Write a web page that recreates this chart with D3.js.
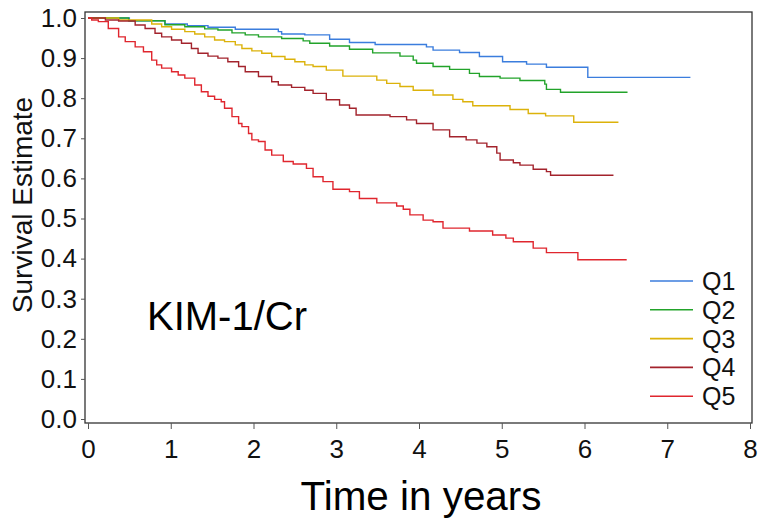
<!DOCTYPE html>
<html>
<head>
<meta charset="utf-8">
<script src="https://cdn.jsdelivr.net/npm/d3@7"></script>
<style>
  html, body { margin: 0; padding: 0; background: #fff; }
  svg { display: block; font-family: "Liberation Sans", Arial, sans-serif; }
</style>
</head>
<body>
<svg id="chart" width="762" height="529"></svg>
<script>
// ---- data ----
const seriesNames = ["Q1", "Q2", "Q3", "Q4", "Q5"];
const seriesColors = ["#3b7ddd", "#22a32a", "#dcb20a", "#a3232c", "#e0262e"];

const q1Time = [0, 0.5, 0.93, 1.2, 1.45, 1.78, 2.30, 2.34, 2.62, 2.92, 3.16, 3.47, 4.09, 4.17, 4.49, 4.73, 5.01, 5.30, 5.54, 6.04, 7.28];
const q1Surv = [1, 0.993, 0.985, 0.981, 0.977, 0.972, 0.966, 0.960, 0.958, 0.947, 0.939, 0.934, 0.928, 0.920, 0.914, 0.904, 0.891, 0.885, 0.877, 0.852, 0.852];

const q2Time = [0, 0.49, 0.93, 1.17, 1.41, 1.57, 1.74, 1.90, 2.06, 2.34, 2.60, 2.68, 2.92, 3.16, 3.44, 3.77, 3.93, 3.97, 4.17, 4.37, 4.61, 4.73, 4.98, 5.22, 5.52, 5.54, 5.71, 6.52];
const q2Surv = [1, 0.993, 0.983, 0.978, 0.973, 0.970, 0.963, 0.958, 0.953, 0.949, 0.943, 0.937, 0.930, 0.922, 0.913, 0.905, 0.895, 0.887, 0.879, 0.872, 0.862, 0.854, 0.850, 0.844, 0.835, 0.822, 0.815, 0.815];

const q3Time = [0, 0.37, 0.77, 0.89, 1.01, 1.17, 1.29, 1.41, 1.53, 1.65, 1.78, 1.86, 1.98, 2.10, 2.22, 2.38, 2.50, 2.62, 2.72, 2.88, 3.08, 3.49, 3.61, 3.77, 3.93, 4.17, 4.41, 4.53, 4.65, 5.10, 5.32, 5.53, 5.87, 6.41];
const q3Surv = [1, 0.995, 0.985, 0.978, 0.972, 0.966, 0.960, 0.953, 0.945, 0.941, 0.933, 0.924, 0.918, 0.912, 0.904, 0.897, 0.891, 0.883, 0.879, 0.870, 0.855, 0.845, 0.837, 0.829, 0.820, 0.808, 0.797, 0.791, 0.781, 0.772, 0.762, 0.756, 0.740, 0.740];

const q4Time = [0, 0.21, 0.37, 0.57, 0.69, 0.81, 0.89, 1.01, 1.13, 1.25, 1.33, 1.45, 1.57, 1.69, 1.82, 1.90, 2.06, 2.22, 2.30, 2.46, 2.62, 2.72, 2.88, 3.04, 3.16, 3.24, 3.65, 3.85, 3.97, 4.17, 4.37, 4.57, 4.70, 4.82, 4.94, 4.98, 5.14, 5.22, 5.38, 5.54, 5.59, 6.35];
const q4Surv = [1, 0.995, 0.9925, 0.9825, 0.974, 0.962, 0.953, 0.945, 0.937, 0.924, 0.912, 0.905, 0.900, 0.891, 0.879, 0.866, 0.854, 0.841, 0.833, 0.827, 0.820, 0.812, 0.796, 0.783, 0.775, 0.758, 0.754, 0.746, 0.737, 0.721, 0.704, 0.696, 0.688, 0.679, 0.663, 0.646, 0.639, 0.633, 0.623, 0.617, 0.608, 0.608];

const q5Time = [0, 0.045, 0.125, 0.245, 0.37, 0.45, 0.57, 0.67, 0.77, 0.83, 0.89, 1.01, 1.09, 1.17, 1.29, 1.37, 1.45, 1.53, 1.61, 1.65, 1.74, 1.82, 1.86, 1.94, 1.98, 2.06, 2.14, 2.22, 2.36, 2.48, 2.64, 2.72, 2.84, 2.96, 3.16, 3.28, 3.49, 3.73, 3.81, 3.89, 4.05, 4.17, 4.29, 4.61, 4.89, 5.05, 5.14, 5.38, 5.54, 5.92, 6.51];
const q5Surv = [1, 0.995, 0.991, 0.974, 0.953, 0.941, 0.928, 0.916, 0.895, 0.883, 0.875, 0.866, 0.858, 0.850, 0.833, 0.816, 0.805, 0.797, 0.791, 0.775, 0.754, 0.737, 0.729, 0.712, 0.696, 0.692, 0.671, 0.658, 0.642, 0.636, 0.625, 0.604, 0.592, 0.573, 0.567, 0.550, 0.539, 0.531, 0.523, 0.509, 0.496, 0.492, 0.476, 0.469, 0.459, 0.451, 0.442, 0.426, 0.415, 0.397, 0.397];

const xTicks = [0, 1, 2, 3, 4, 5, 6, 7, 8];
const yTicks = [0, 0.1, 0.2, 0.3, 0.4, 0.5, 0.6, 0.7, 0.8, 0.9, 1.0];

const xTitle = "Time in years";
const yTitle = "Survival Estimate";
const panelLabel = "KIM-1/Cr";

// ---- build ----
const times = [q1Time, q2Time, q3Time, q4Time, q5Time];
const survs = [q1Surv, q2Surv, q3Surv, q4Surv, q5Surv];
const series = seriesNames.map((n, i) => ({
  name: n, color: seriesColors[i],
  pts: times[i].map((t, j) => ({ t: t, s: survs[i][j] }))
}));

const svg = d3.select("#chart");
const frame = { left: 85, top: 12, right: 752, bottom: 423 };

const x = d3.scaleLinear().domain([0, 8]).range([88, 750]);
const y = d3.scaleLinear().domain([0, 1]).range([419, 18]);

// frame
svg.append("rect")
  .attr("x", frame.left).attr("y", frame.top)
  .attr("width", frame.right - frame.left).attr("height", frame.bottom - frame.top)
  .attr("fill", "none").attr("stroke", "#333").attr("stroke-width", 1.3);

// y axis
const yAxis = d3.axisLeft(y).tickValues(yTicks).tickFormat(d3.format(".1f")).tickSize(4).tickPadding(4);
const gy = svg.append("g").attr("transform", `translate(${frame.left},0)`).call(yAxis);
gy.select(".domain").remove();
gy.selectAll(".tick line").attr("stroke", "#555");
gy.selectAll(".tick text").attr("font-size", 26).attr("fill", "#111")
  .attr("font-family", "Liberation Sans, Arial, sans-serif");

// x axis
const xAxis = d3.axisBottom(x).tickValues(xTicks).tickFormat(d3.format("d")).tickSize(6).tickPadding(11);
const gx = svg.append("g").attr("transform", `translate(0,${frame.bottom})`).call(xAxis);
gx.select(".domain").remove();
gx.selectAll(".tick line").attr("stroke", "#555");
gx.selectAll(".tick text").attr("font-size", 26).attr("fill", "#111")
  .attr("font-family", "Liberation Sans, Arial, sans-serif");

// curves
const line = d3.line().x(d => x(d.t)).y(d => y(d.s)).curve(d3.curveStepAfter);
svg.append("g").selectAll("path").data(series).join("path")
  .attr("d", d => line(d.pts))
  .attr("fill", "none")
  .attr("stroke", d => d.color)
  .attr("stroke-width", 1.4);

// titles
svg.append("text").attr("x", 421).attr("y", 510).attr("text-anchor", "middle")
  .attr("font-size", 40).attr("textLength", 241).attr("lengthAdjust", "spacingAndGlyphs")
  .attr("fill", "#000").text(xTitle);
svg.append("text").attr("transform", "translate(32,205) rotate(-90)").attr("text-anchor", "middle")
  .attr("font-size", 28).attr("fill", "#111").text(yTitle);
svg.append("text").attr("x", 147).attr("y", 330)
  .attr("font-size", 40).attr("fill", "#000").text(panelLabel);

// legend
const leg = svg.append("g").selectAll("g").data(series).join("g")
  .attr("transform", (d, i) => `translate(650,${281 + i * 28.8})`);
leg.append("line").attr("x1", 0).attr("x2", 43).attr("y1", 0).attr("y2", 0)
  .attr("stroke", d => d.color).attr("stroke-width", 1.6);
leg.append("text").attr("x", 52).attr("y", 9).attr("font-size", 25).attr("fill", "#111")
  .text(d => d.name);
</script>
</body>
</html>
